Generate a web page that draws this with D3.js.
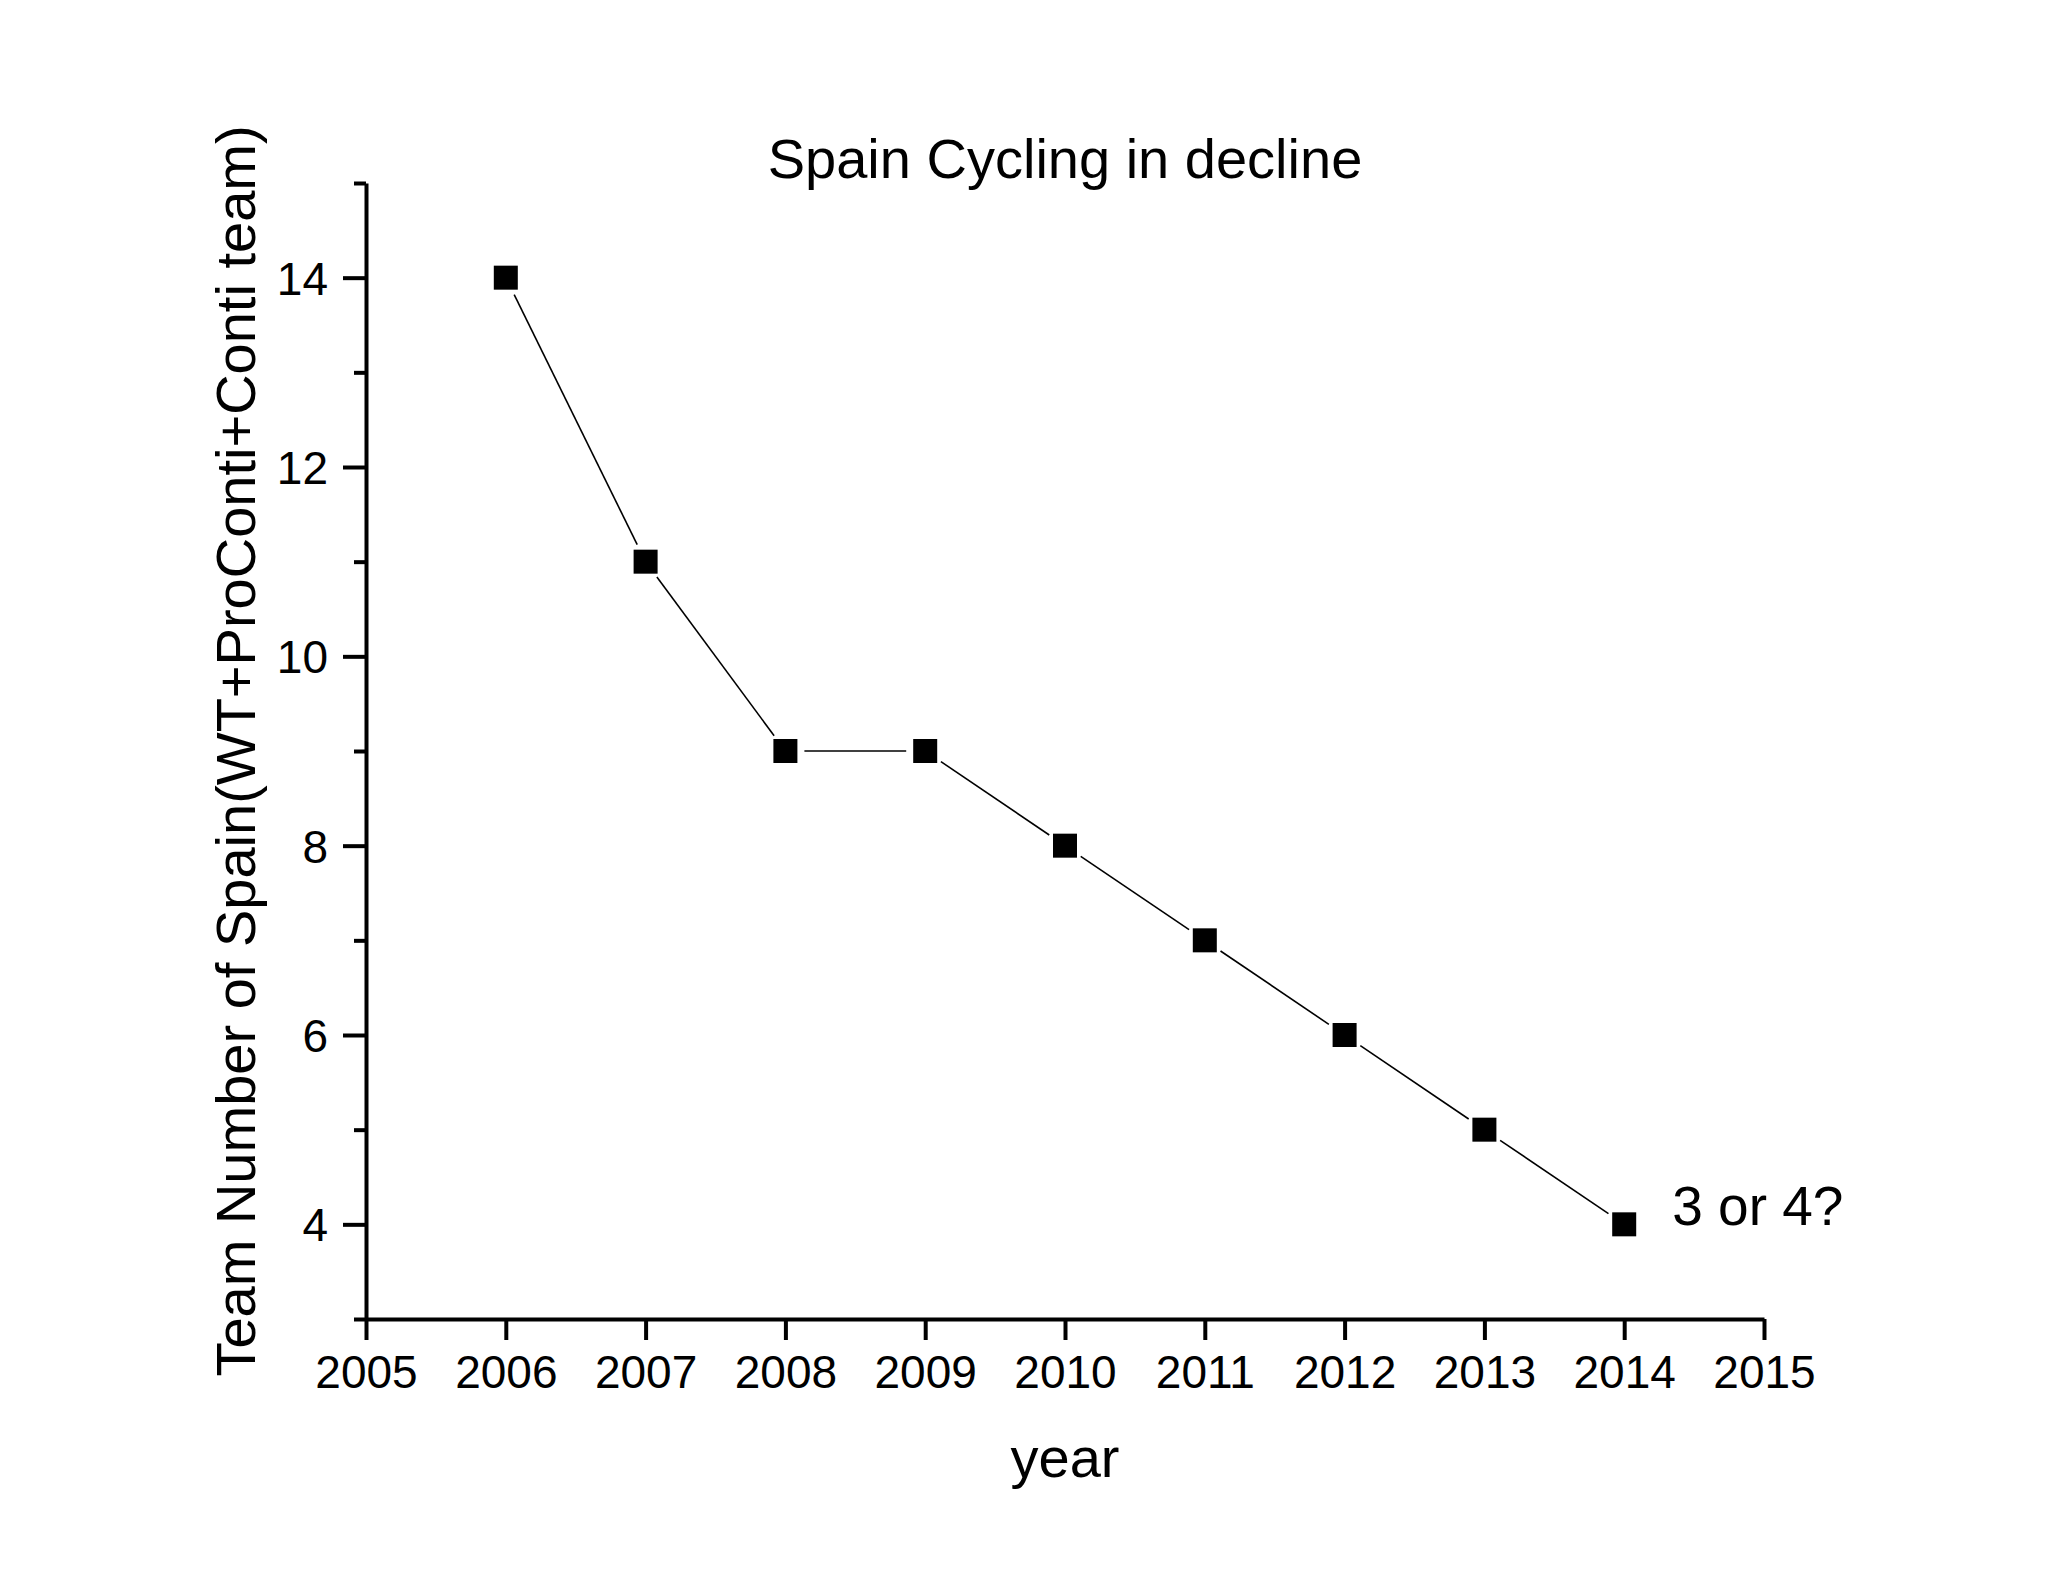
<!DOCTYPE html>
<html>
<head>
<meta charset="utf-8">
<script src="https://cdn.jsdelivr.net/npm/d3@7"></script>
<style>
  html, body { margin: 0; padding: 0; background: #fff; }
  svg text { font-family: "Liberation Sans", Arial, sans-serif; fill: #000; }
</style>
</head>
<body>
<svg id="chart" width="2048" height="1582"></svg>
<script>
// data
const years = [2006, 2007, 2008, 2009, 2010, 2011, 2012, 2013, 2014];
const teams = [14, 11, 9, 9, 8, 7, 6, 5, 4];
const xTicks = [2005, 2006, 2007, 2008, 2009, 2010, 2011, 2012, 2013, 2014, 2015];
const yMajor = [4, 6, 8, 10, 12, 14];
const yMinor = [3, 5, 7, 9, 11, 13, 15];
const note = '3 or 4?';

const svg = d3.select('#chart');
const margin = { top: 183, right: 284, bottom: 263, left: 366 };
const width = 2048 - margin.left - margin.right;
const height = 1582 - margin.top - margin.bottom;

const g = svg.append('g')
    .attr('transform', `translate(${margin.left} ${margin.top})`);

const x = d3.scaleLinear().domain([2005, 2015]).range([0, width]);
const y = d3.scaleLinear().domain([3, 15]).range([height, 0]);

// x axis
const xAxis = g.append('g')
    .attr('transform', `translate(0 ${height})`)
    .call(d3.axisBottom(x).tickValues(xTicks).tickFormat(d3.format('d'))
        .tickSize(21).tickSizeOuter(0).tickPadding(15));
xAxis.select('.domain').attr('stroke-width', 4);
xAxis.selectAll('.tick line').attr('stroke-width', 4);
xAxis.selectAll('.tick text').style('font-size', '46px');

// y axis, minor ticks first
const yMinorAxis = g.append('g')
    .call(d3.axisLeft(y).tickValues(yMinor).tickFormat('').tickSize(12).tickSizeOuter(0));
yMinorAxis.select('.domain').remove();
yMinorAxis.selectAll('.tick line').attr('stroke-width', 4);

const yAxis = g.append('g')
    .call(d3.axisLeft(y).tickValues(yMajor).tickSize(23).tickSizeOuter(0).tickPadding(15));
yAxis.select('.domain').attr('stroke-width', 4);
yAxis.selectAll('.tick line').attr('stroke-width', 4);
yAxis.selectAll('.tick text').style('font-size', '46px').attr('dy', '0.36em');

// connecting line, with gaps around the markers like the original
const pts = years.map((d, i) => [x(d), y(teams[i])]);
const gap = 19;
const segs = d3.pairs(pts).map(([a, b]) => {
    const dx = b[0] - a[0], dy = b[1] - a[1];
    const len = Math.sqrt(dx * dx + dy * dy);
    const ux = dx / len, uy = dy / len;
    return [a[0] + ux * gap, a[1] + uy * gap, b[0] - ux * gap, b[1] - uy * gap];
});
g.selectAll('.seg')
    .data(segs)
    .enter().append('line')
    .attr('class', 'seg')
    .attr('x1', d => d[0]).attr('y1', d => d[1])
    .attr('x2', d => d[2]).attr('y2', d => d[3])
    .attr('stroke', '#000')
    .attr('stroke-width', 1.6);

// square markers
const sz = 24;
g.selectAll('.pt')
    .data(years)
    .enter().append('rect')
    .attr('class', 'pt')
    .attr('x', d => x(d) - sz / 2)
    .attr('y', (d, i) => y(teams[i]) - sz / 2)
    .attr('width', sz)
    .attr('height', sz)
    .attr('fill', '#000');

// note next to last point
const last = years.length - 1;
g.append('text')
    .attr('x', x(years[last]) + 48)
    .attr('y', y(teams[last]) + 1)
    .style('font-size', '55px')
    .text(note);

// title
g.append('text')
    .attr('x', width / 2)
    .attr('y', -5)
    .attr('text-anchor', 'middle')
    .style('font-size', '56px')
    .text('Spain Cycling in decline');

// x label
g.append('text')
    .attr('x', width / 2)
    .attr('y', height + 158)
    .attr('text-anchor', 'middle')
    .style('font-size', '56px')
    .text('year');

// y label
g.append('text')
    .attr('transform', `translate(${255 - margin.left} ${height / 2}) rotate(-90)`)
    .attr('text-anchor', 'middle')
    .style('font-size', '56px')
    .text('Team Number of Spain(WT+ProConti+Conti team)');
</script>
</body>
</html>
